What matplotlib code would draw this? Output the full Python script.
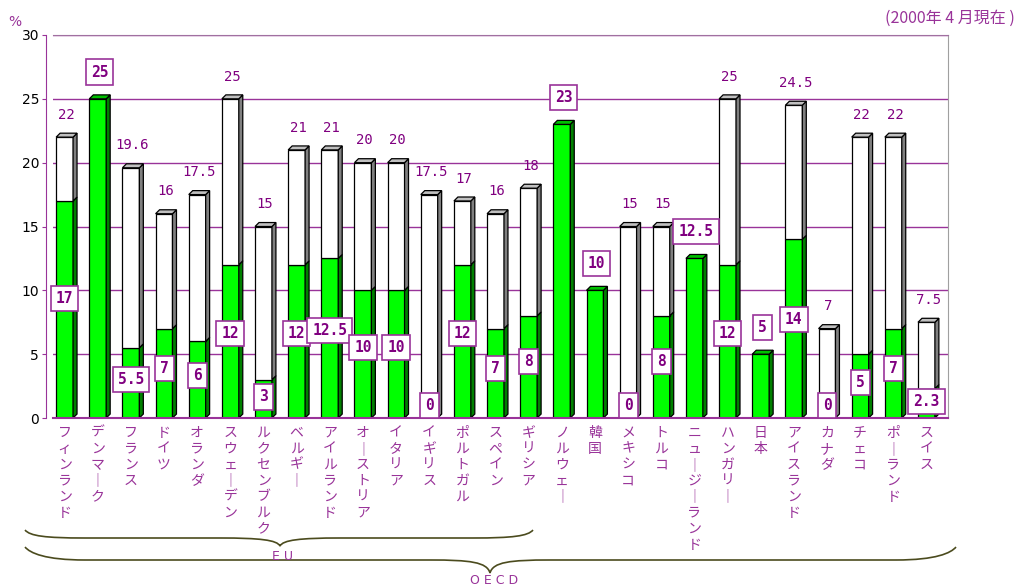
import matplotlib
matplotlib.use("Agg")
import matplotlib.pyplot as plt
from matplotlib.patches import Rectangle, Polygon, PathPatch
from matplotlib.path import Path

countries = ["フィンランド", "デンマーク", "フランス", "ドイツ", "オランダ", "スウェーデン",
             "ルクセンブルク", "ベルギー", "アイルランド", "オーストリア", "イタリア", "イギリス",
             "ポルトガル", "スペイン", "ギリシア", "ノルウェー", "韓国", "メキシコ", "トルコ",
             "ニュージーランド", "ハンガリー", "日本", "アイスランド", "カナダ", "チェコ",
             "ポーランド", "スイス"]
reduced = [17, 25, 5.5, 7, 6, 12, 3, 12, 12.5, 10, 10, 0, 12, 7, 8, 23, 10, 0, 8,
           12.5, 12, 5, 14, 0, 5, 7, 2.3]
standard = [22, 25, 19.6, 16, 17.5, 25, 15, 21, 21, 20, 20, 17.5, 17, 16, 18, 23, 10, 15, 15,
            12.5, 25, 5, 24.5, 7, 22, 22, 7.5]
yticks = [0, 5, 10, 15, 20, 25, 30]

PURPLE = "#800080"
LPURPLE = "#993399"
CJK = ["Noto Sans CJK JP", "DejaVu Sans"]
MONO = "DejaVu Sans Mono"

W, H = 1017, 588
fig = plt.figure(figsize=(W / 100, H / 100), dpi=100)
ax = fig.add_axes([53 / W, 170 / H, 895 / W, 383 / H])
ax.set_xlim(-0.35, 26.65)
ax.set_ylim(0, 30)

for v in yticks[1:]:
    ax.axhline(v, color=LPURPLE, lw=1, zorder=0)

bw, dx, dy = 0.51, 0.12, 0.31


def fmt(v):
    return ("%g" % v)


for i, (g, t) in enumerate(zip(reduced, standard)):
    x0, x1 = i - bw / 2, i + bw / 2
    if g > 0:
        ax.add_patch(Rectangle((x0, 0), bw, g, fc="#00ff00", ec="black", lw=0.9, zorder=2))
        ax.add_patch(Polygon([(x1, 0), (x1 + dx, dy), (x1 + dx, g + dy), (x1, g)],
                             fc="#008000", ec="black", lw=0.9, zorder=2))
    if t > g:
        ax.add_patch(Rectangle((x0, g), bw, t - g, fc="white", ec="black", lw=0.9, zorder=2))
        ax.add_patch(Polygon([(x1, g), (x1 + dx, g + dy), (x1 + dx, t + dy), (x1, t)],
                             fc="#808080", ec="black", lw=0.9, zorder=2))
    top_c = "#00c000" if t == g else "#c0c0c0"
    ax.add_patch(Polygon([(x0, t), (x0 + dx, t + dy), (x1 + dx, t + dy), (x1, t)],
                         fc=top_c, ec="black", lw=0.9, zorder=2))

    box = dict(boxstyle="square,pad=0.35", fc="white", ec=LPURPLE, lw=1.2)
    if t == g:
        ax.text(i + 0.05, t + 2.1, fmt(g), ha="center", va="center", fontsize=10.5,
                fontweight="bold", family=MONO, color=PURPLE, bbox=box, zorder=5)
    else:
        ly = max(g * 0.55, 1.0)
        ax.text(i, ly, fmt(g), ha="center", va="center", fontsize=10.5,
                fontweight="bold", family=MONO, color=PURPLE, bbox=box, zorder=5)
        ax.annotate(fmt(t), (i + 0.05, t), xytext=(0, 11), textcoords="offset points",
                    ha="center", va="bottom", fontsize=10, family=MONO, color=PURPLE)

ax.set_xticks([])
ax.set_yticks(yticks)
ax.set_yticklabels([str(v) for v in yticks], family=MONO, fontsize=10, color=LPURPLE)
ax.tick_params(axis="y", length=3, color=LPURPLE, pad=2)
ax.spines["left"].set_position(("outward", 5))
ax.spines["left"].set_color(LPURPLE)
ax.spines["bottom"].set_color(LPURPLE)
ax.spines["bottom"].set_linewidth(1.5)
ax.spines["top"].set_color("#a070a0")
ax.spines["right"].set_color("#a0a0a0")

# vertical country names
for i, name in enumerate(countries):
    s = "\n".join("｜" if c == "ー" else c for c in name)
    ax.text(i, -0.6, s, ha="center", va="top", fontsize=10, family=CJK,
            color=LPURPLE, linespacing=1.18)

fig.text(15 / W, 1 - 22 / H, "%", ha="center", va="center", fontsize=10, color=LPURPLE)
fig.text(1015 / W, 1 - 18 / H, "(2000年 4 月現在 )", ha="right", va="center",
         fontsize=11.5, family=CJK, color=LPURPLE)


def brace(x0, x1, ya, yh, tip, yt):
    pts = [(x0, ya), (x0 + 5, ya + 6), (x0 + 20, yh), (x0 + 60, yh),
           (tip - 60, yh),
           (tip - 20, yh), (tip - 3, yh + 2), (tip, yt),
           (tip + 3, yh + 2), (tip + 20, yh), (tip + 60, yh),
           (x1 - 60, yh),
           (x1 - 20, yh), (x1 - 5, ya + 6), (x1, ya)]
    codes = [Path.MOVETO, Path.CURVE4, Path.CURVE4, Path.CURVE4, Path.LINETO,
             Path.CURVE4, Path.CURVE4, Path.CURVE4, Path.CURVE4, Path.CURVE4, Path.CURVE4,
             Path.LINETO, Path.CURVE4, Path.CURVE4, Path.CURVE4]
    verts = [(x / W, 1 - y / H) for x, y in pts]
    fig.add_artist(PathPatch(Path(verts, codes), fc="none", ec="#4b4b1e", lw=1.2,
                             transform=fig.transFigure))


brace(25, 533, 530, 538, 280, 546)
brace(25, 956, 547, 560, 490, 573)
fig.text(282 / W, 1 - 556 / H, "E U", ha="center", va="center", fontsize=9, color=LPURPLE)
fig.text(494 / W, 1 - 580 / H, "O E C D", ha="center", va="center", fontsize=9, color=LPURPLE)

fig.savefig("out.png", dpi=100)
